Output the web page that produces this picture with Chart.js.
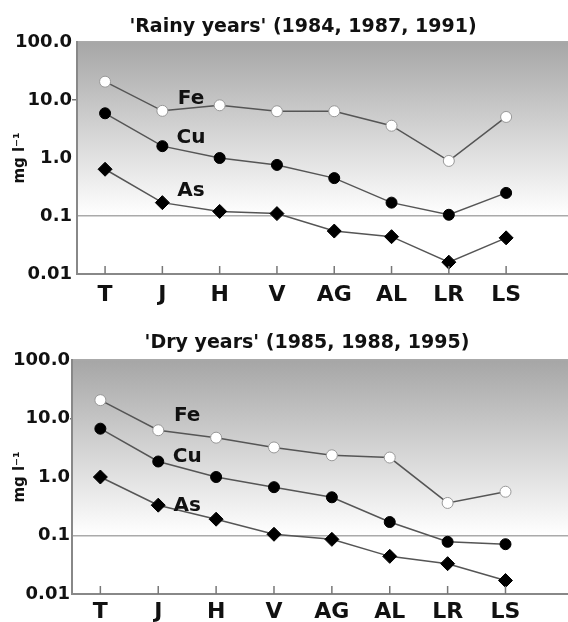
<!DOCTYPE html>
<html>
<head>
<meta charset="utf-8">
<script src="https://cdn.jsdelivr.net/npm/chart.js@4.4.1/dist/chart.umd.min.js"></script>
<style>
  html, body { margin: 0; padding: 0; background: #fff; }
  .box { position: relative; width: 568px; height: 311px; }
  canvas { display: block; }
</style>
</head>
<body>
<div class="box"><canvas id="rainy" width="568" height="311"></canvas></div>
<div class="box"><canvas id="dry" width="568" height="311"></canvas></div>
<script>
// sampling stations along the river
const stations = ['T', 'J', 'H', 'V', 'AG', 'AL', 'LR', 'LS'];
const yTicks = [0.01, 0.1, 1, 10, 100];
const yTickLabels = ['0.01', '0.1', '1.0', '10.0', '100.0'];

// 'Rainy years' (1984, 1987, 1991), mg/l
const rainyFe = [20.7, 6.5, 8.1, 6.4, 6.4, 3.6, 0.89, 5.1];
const rainyCu = [5.9, 1.6, 1.0, 0.76, 0.45, 0.17, 0.105, 0.25];
const rainyAs = [0.64, 0.17, 0.12, 0.11, 0.055, 0.044, 0.016, 0.042];

// 'Dry years' (1985, 1988, 1995), mg/l
const dryFe = [20.6, 6.3, 4.7, 3.2, 2.35, 2.15, 0.36, 0.56];
const dryCu = [6.7, 1.84, 1.0, 0.67, 0.45, 0.17, 0.078, 0.071];
const dryAs = [1.0, 0.33, 0.19, 0.105, 0.086, 0.044, 0.033, 0.017];

// where the series names sit (station index, value)
const rainyNames = [['Fe', 1.5, 10.5], ['Cu', 1.5, 2.2], ['As', 1.5, 0.27]];
const dryNames = [['Fe', 1.5, 11], ['Cu', 1.5, 2.2], ['As', 1.5, 0.32]];

const FONT = '"DejaVu Sans", "Liberation Sans", sans-serif';

function pts(vals) {
  return vals.map((v, i) => ({ x: i, y: v }));
}

// gray-to-white background down to the 0.1 line, white below
const backdrop = {
  id: 'backdrop',
  beforeDraw(chart) {
    const { ctx, chartArea: a, scales: { y } } = chart;
    const y01 = y.getPixelForValue(0.1);
    ctx.save();
    ctx.fillStyle = '#fff';
    ctx.fillRect(a.left, a.top, a.right - a.left, a.bottom - a.top);
    const g = ctx.createLinearGradient(0, a.top, 0, y01);
    g.addColorStop(0, '#a6a6a6');
    g.addColorStop(1, '#ffffff');
    ctx.fillStyle = g;
    ctx.fillRect(a.left, a.top, a.right - a.left, y01 - a.top);
    ctx.restore();
  }
};

// title, series names and inside tick marks
const extras = {
  id: 'extras',
  afterDraw(chart, args, opts) {
    const { ctx, chartArea: a, scales: { x, y } } = chart;
    ctx.save();
    ctx.fillStyle = '#111';
    ctx.textAlign = 'center';
    ctx.textBaseline = 'middle';
    ctx.font = 'bold 19px ' + FONT;
    ctx.fillText(opts.title, opts.titleX, opts.titleY);
    ctx.font = 'bold 20px ' + FONT;
    opts.names.forEach(([t, xi, v]) => {
      ctx.fillText(t, x.getPixelForValue(xi), y.getPixelForValue(v));
    });
    ctx.strokeStyle = '#777';
    ctx.lineWidth = 1.5;
    stations.forEach((s, i) => {
      const px = x.getPixelForValue(i);
      ctx.beginPath();
      ctx.moveTo(px, a.bottom);
      ctx.lineTo(px, a.bottom - 8);
      ctx.stroke();
    });
    ctx.restore();
  }
};

function makeChart(id, fe, cu, as, names, title, layout) {
  const line = { borderColor: '#555', borderWidth: 1.5, pointRadius: 5.5, pointHoverRadius: 5.5 };
  new Chart(document.getElementById(id), {
    type: 'line',
    data: {
      datasets: [
        Object.assign({ label: 'Fe', data: pts(fe), pointStyle: 'circle',
          pointBackgroundColor: '#fff', pointBorderColor: '#999', pointBorderWidth: 1 }, line),
        Object.assign({ label: 'Cu', data: pts(cu), pointStyle: 'circle',
          pointBackgroundColor: '#000', pointBorderColor: '#000', pointBorderWidth: 1 }, line),
        Object.assign({ label: 'As', data: pts(as), pointStyle: 'rectRot', pointRadius: 7, pointHoverRadius: 7,
          pointBackgroundColor: '#000', pointBorderColor: '#000', pointBorderWidth: 1 }, { borderColor: '#555', borderWidth: 1.5 })
      ]
    },
    options: {
      responsive: false,
      animation: false,
      layout: { autoPadding: false, padding: { top: layout.top, right: 0, bottom: 0, left: 4 } },
      plugins: {
        legend: { display: false },
        tooltip: { enabled: false },
        extras: { title: title, titleX: layout.titleX, titleY: layout.titleY, names: names }
      },
      scales: {
        x: {
          type: 'linear',
          min: -0.49,
          max: 8.08,
          afterBuildTicks: s => { s.ticks = stations.map((c, i) => ({ value: i })); },
          afterFit: s => { s.height = layout.xh; },
          ticks: {
            callback: v => stations[v],
            color: '#111',
            font: { family: FONT, size: 22, weight: 'bold' },
            padding: layout.xpad,
            maxRotation: 0,
            autoSkip: false
          },
          grid: { display: false, drawTicks: false },
          border: { color: '#888', width: 2 }
        },
        y: {
          type: 'logarithmic',
          min: 0.01,
          max: 100,
          afterBuildTicks: s => { s.ticks = yTicks.map(v => ({ value: v })); },
          afterFit: s => { s.width = layout.left - 4; },
          ticks: {
            callback: (v) => yTickLabels[yTicks.indexOf(v)],
            color: '#111',
            font: { family: FONT, size: 18, weight: 'bold' },
            padding: 0,
            autoSkip: false
          },
          grid: {
            color: c => (c.tick && (c.tick.value === 0.1 || c.tick.value === 100)) ? '#aaa' : 'rgba(0,0,0,0)',
            lineWidth: 1.5,
            drawTicks: true,
            tickLength: layout.tickLen,
            tickColor: c => (c.tick && c.tick.value === 10) ? '#777' : 'rgba(0,0,0,0)'
          },
          border: { color: '#888', width: 2 },
          title: {
            display: true,
            text: 'mg l\u207B\u00B9',
            color: '#111',
            font: { family: FONT, size: 15, weight: 'bold', lineHeight: 2.1 },
            padding: { top: 0, bottom: 0 }
          }
        }
      }
    },
    plugins: [backdrop, extras]
  });
}

makeChart('rainy', rainyFe, rainyCu, rainyAs, rainyNames,
  "'Rainy years' (1984, 1987, 1991)",
  { top: 42, left: 77, xh: 37, xpad: 8, tickLen: 5, titleX: 303, titleY: 27 });
makeChart('dry', dryFe, dryCu, dryAs, dryNames,
  "'Dry years' (1985, 1988, 1995)",
  { top: 49, left: 72, xh: 28, xpad: 5, tickLen: 2, titleX: 307, titleY: 32 });
</script>
</body>
</html>
